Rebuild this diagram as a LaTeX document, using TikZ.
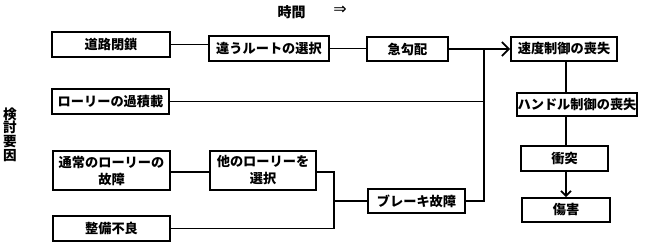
\documentclass[tikz,border=0pt]{standalone}
\usepackage{fontspec}
\setmainfont{Noto Sans CJK JP}
\newfontfamily\symfont{DejaVu Sans}
\usetikzlibrary{arrows.meta}
\begin{document}
\begin{tikzpicture}[x=1bp,y=-1bp,
  box/.style={draw,line width=1.8bp,inner sep=0pt,align=center,
    font=\fontsize{13.2bp}{17bp}\selectfont\bfseries},
  conn/.style={line width=1.7bp},
  arr/.style={conn,-{Straight Barb[length=7bp,width=14bp,line width=1.7bp]}},
  arrs/.style={conn,-{Straight Barb[length=5bp,width=10bp,line width=1.7bp]}}]
\useasboundingbox[fill=white] (0,0) rectangle (649,246);
% header
\node (time) at (291.5,12.5) {\fontsize{14bp}{14bp}\selectfont\bfseries 時間};
\node (imp) at (340,10.5) {\fontsize{16bp}{16bp}\selectfont\symfont ⇒};
\node[align=center,inner sep=0pt,font=\fontsize{13.6bp}{13.75bp}\selectfont\bfseries] (factor) at (10,134.5) {検\\討\\要\\因};
% boxes
\node[box,minimum width=118bp,minimum height=25bp] (road) at (111,44.5) {道路閉鎖};
\node[box,minimum width=120bp,minimum height=25bp] (route) at (269,48.5) {違うルートの選択};
\node[box,minimum width=81bp,minimum height=24bp] (steep) at (407.5,49) {急勾配};
\node[box,minimum width=106bp,minimum height=24bp] (speed) at (564,49) {速度制御の喪失};
\node[box,minimum width=120bp,minimum height=23bp] (handle) at (577,104.5) {ハンドル制御の喪失};
\node[box,minimum width=87bp,minimum height=25bp] (crash) at (564.5,158.5) {衝突};
\node[box,minimum width=88bp,minimum height=24bp] (injury) at (566,210) {傷害};
\node[box,minimum width=117bp,minimum height=25bp] (over) at (110.5,101.5) {ローリーの過積載};
\node[box,minimum width=117bp,minimum height=39bp] (normal) at (111.5,170.5) {通常のローリーの\\故障};
\node[box,minimum width=106bp,minimum height=39bp] (other) at (263,170.5) {他のローリーを\\選択};
\node[box,minimum width=117bp,minimum height=25bp] (maint) at (111.5,228.5) {整備不良};
\node[box,minimum width=97bp,minimum height=24bp] (brake) at (416.5,201) {ブレーキ故障};
% junction coordinates
\coordinate (J) at (484,49);
\coordinate (B) at (334,201);
\coordinate (V) at (566,0);
% connectors
\draw[conn] (road.east) -- (road.east -| route.west);
\draw[conn] (route.east) -- (route.east -| steep.west);
\draw[arr] (steep.east) -- (steep.east -| speed.west);
\draw[conn] (J) -- (J |- brake.east) -- (brake.east);
\draw[conn] (over.east) -- (over.east -| J);
\draw[conn] (normal.east |- 0,172) -- (other.west |- 0,172);
\draw[conn] (other.east |- 0,172) -- (B |- 0,172) -- (B |- maint.east) -- (maint.east);
\draw[conn] (brake.west) -- (B);
\draw[conn] (V |- speed.south) -- (V |- handle.north);
\draw[conn] (V |- handle.south) -- (V |- crash.north);
\draw[arrs] (V |- crash.south) -- (V |- injury.north);
\end{tikzpicture}
\end{document}
